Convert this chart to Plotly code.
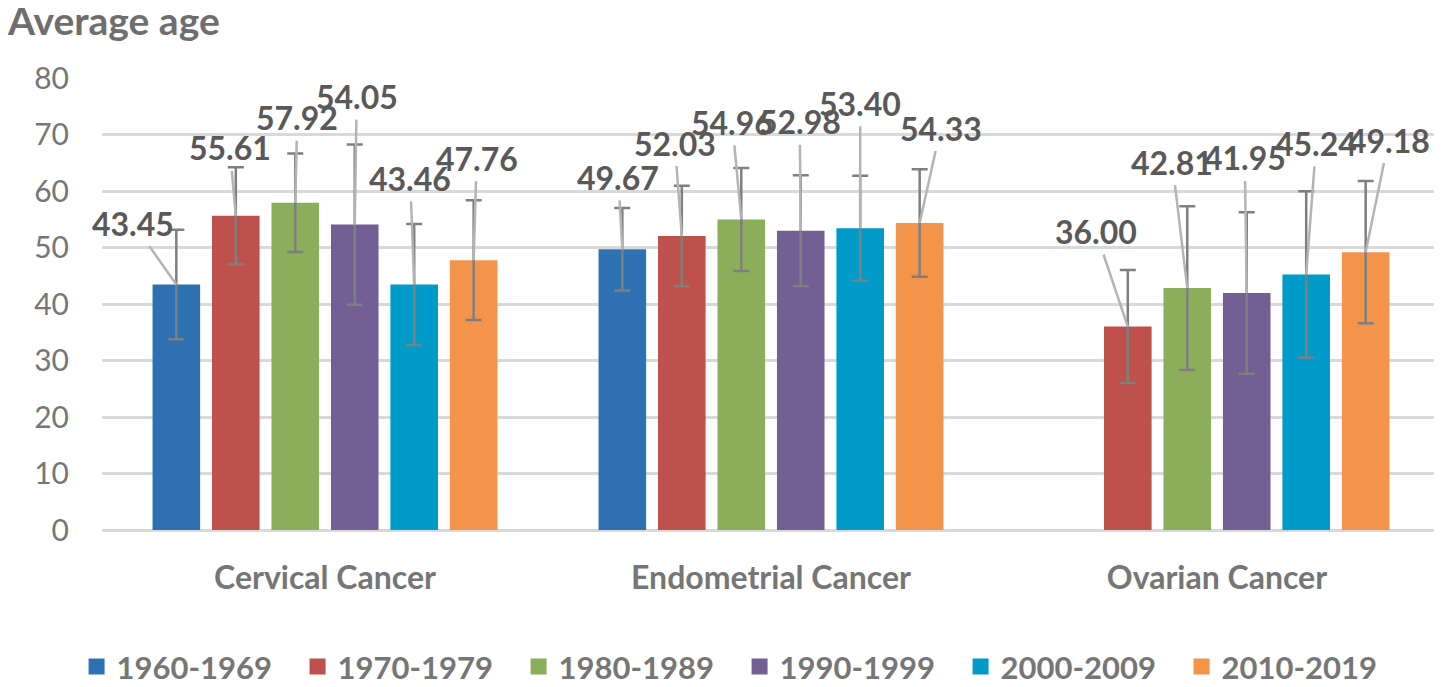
import plotly.graph_objects as go

# ---------------- data ----------------
categories = ["Cervical Cancer", "Endometrial Cancer", "Ovarian Cancer"]
series_names = ["1960-1969", "1970-1979", "1980-1989", "1990-1999", "2000-2009", "2010-2019"]

avg_1960 = [43.45, 49.67, None]
avg_1970 = [55.61, 52.03, 36.00]
avg_1980 = [57.92, 54.96, 42.81]
avg_1990 = [54.05, 52.98, 41.95]
avg_2000 = [43.46, 53.40, 45.24]
avg_2010 = [47.76, 54.33, 49.18]

sd_1960 = [9.7, 7.3, None]
sd_1970 = [8.6, 8.9, 10.0]
sd_1980 = [8.7, 9.1, 14.5]
sd_1990 = [14.2, 9.8, 14.3]
sd_2000 = [10.7, 9.3, 14.7]
sd_2010 = [10.6, 9.5, 12.6]

y_ticks = [0, 10, 20, 30, 40, 50, 60, 70, 80]

values = [avg_1960, avg_1970, avg_1980, avg_1990, avg_2000, avg_2010]
errors = [sd_1960, sd_1970, sd_1980, sd_1990, sd_2000, sd_2010]

# ---------------- style ----------------
colors = ["#2E71B3", "#BE514B", "#8BAE5A", "#745F95", "#009BC8", "#F4934A"]
FONT = "Lato"
BARGAP = 0.2

# label offsets in pixels (text centre relative to bar top) per series, per category
label_offsets = [
    [(-43, -61), (-4, -72), None],
    [(-6, -68), (-7, -93), (-32, -95)],
    [(2, -85), (-9, -97), (-15, -126)],
    [(2, -128), (-1, -109), (-2, -135)],
    [(-4, -106), (0, -125), (10, -131)],
    [(3, -102), (21, -95), (23, -112)],
]

fig = go.Figure()
n = len(series_names)
for si, name in enumerate(series_names):
    fig.add_trace(go.Bar(
        x=categories, y=values[si], name=name,
        marker=dict(color=colors[si], line=dict(width=0)),
        error_y=dict(type="data", array=errors[si], color="#7F7F7F",
                     thickness=2.5, width=8),
        showlegend=False,
    ))
    # legend proxy with a larger square
    fig.add_trace(go.Scatter(
        x=[categories[0]], y=[None], mode="markers", name=name,
        marker=dict(symbol="square", size=21, color=colors[si]),
        showlegend=True, hoverinfo="skip",
    ))

annotations = []
slot = (1 - BARGAP) / n
for si in range(n):
    for ci in range(len(categories)):
        v = values[si][ci]
        if v is None:
            continue
        ax, ay = label_offsets[si][ci]
        annotations.append(dict(
            x=ci + (si - (n - 1) / 2) * slot, y=v, xref="x", yref="y",
            text=f"{v:.2f}", showarrow=True, arrowhead=0, arrowwidth=2.5,
            arrowcolor="#B4B4B4", ax=ax, ay=ay, standoff=0, startstandoff=2,
            font=dict(family=FONT, size=32, color="#595959", weight="bold"),
        ))

fig.update_layout(
    width=1434, height=679,
    margin=dict(l=94, r=2, t=70, b=157, autoexpand=False),
    paper_bgcolor="white", plot_bgcolor="white",
    barmode="group", bargap=BARGAP, bargroupgap=0.2,
    title=dict(text="<b>Average age</b>", x=0, xref="container", xanchor="left",
               y=1, yref="container", yanchor="top", pad=dict(t=0, l=0),
               font=dict(family=FONT, size=39, color="#6E6E6E")),
    font=dict(family=FONT, color="#767676"),
    annotations=annotations,
    legend=dict(orientation="h", x=-0.019, xanchor="left", y=-0.303, yanchor="middle",
                font=dict(family=FONT, size=31, color="#767676", weight="bold"),
                entrywidth=176, itemwidth=30, traceorder="normal"),
    showlegend=True,
)
fig.update_xaxes(type="category", range=[-0.5, len(categories) - 0.5], autorange=False,
                 showgrid=False, showline=False, ticks="",
                 tickfont=dict(family=FONT, size=32, color="#767676", weight="bold"),
                 ticklabelstandoff=26)
fig.update_yaxes(range=[0, 80], tickvals=y_ticks, showgrid=True, gridcolor="#D9D9D9",
                 gridwidth=3, zeroline=True, zerolinecolor="#D9D9D9", zerolinewidth=3,
                 showline=False, ticks="",
                 tickfont=dict(family=FONT, size=30, color="#767676"),
                 ticklabelstandoff=32)

fig.write_html("out.html")
